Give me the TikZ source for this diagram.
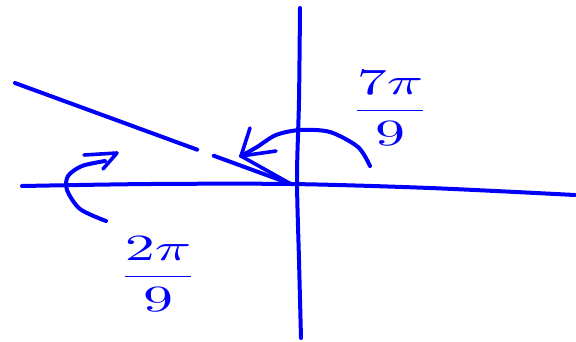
\documentclass[tikz,border=0pt]{standalone}
\usepackage{amsmath}
\usepackage{graphicx}
\usepackage{xcolor}
\usetikzlibrary{calc}
\definecolor{penblue}{RGB}{0, 0, 250}
\newcommand{\bigfrac}[2]{\scalebox{6}[3.7]{$\dfrac{#1}{#2}$}}

\begin{document}
\begin{tikzpicture}[
  x=1pt, y=-1pt,
  pen/.style={draw=penblue, line width=4pt, line cap=round, line join=round},
  barb/.style={pen, line width=3.6pt},
  angle/.style={text=penblue, inner sep=0pt}
]
  \useasboundingbox (0,0) rectangle (576,341);

  % axes
  \coordinate (O) at (291,184);
  \draw[pen] plot[smooth] coordinates {(22,186) (150,184) (O) (430,188) (575,195)};
  \draw[pen] plot[smooth] coordinates {(300,8) (299,100) (297,178) (299,260) (301,338)};

  % ray, drawn with a break
  \coordinate (far) at (15,83);
  \draw[pen] (far) -- ($(far)!0.66!(O)$);
  \draw[pen] ($(far)!0.72!(O)$) -- (O);

  % angle 7pi/9
  \coordinate (tipA) at (241,156);
  \draw[pen] plot[smooth] coordinates {(370,166) (358,147) (330,132) (300,130) (276,135) (257,147) (tipA)};
  \draw[barb] (250,128) -- (tipA) -- (276,151);
  \draw[barb] (tipA) -- (O);
  \node[angle] (lblA) at (390,108) {\bigfrac{7\pi}{9}};

  % angle 2pi/9
  \coordinate (tipB) at (117,153);
  \draw[pen] plot[smooth] coordinates {(106,221) (80,209) (67,190) (68,176) (82,166) (105,161)};
  \draw[barb] (84,155) -- (tipB) -- (103,169);
  \node[angle] (lblB) at (158,274) {\bigfrac{2\pi}{9}};

\end{tikzpicture}
\end{document}
